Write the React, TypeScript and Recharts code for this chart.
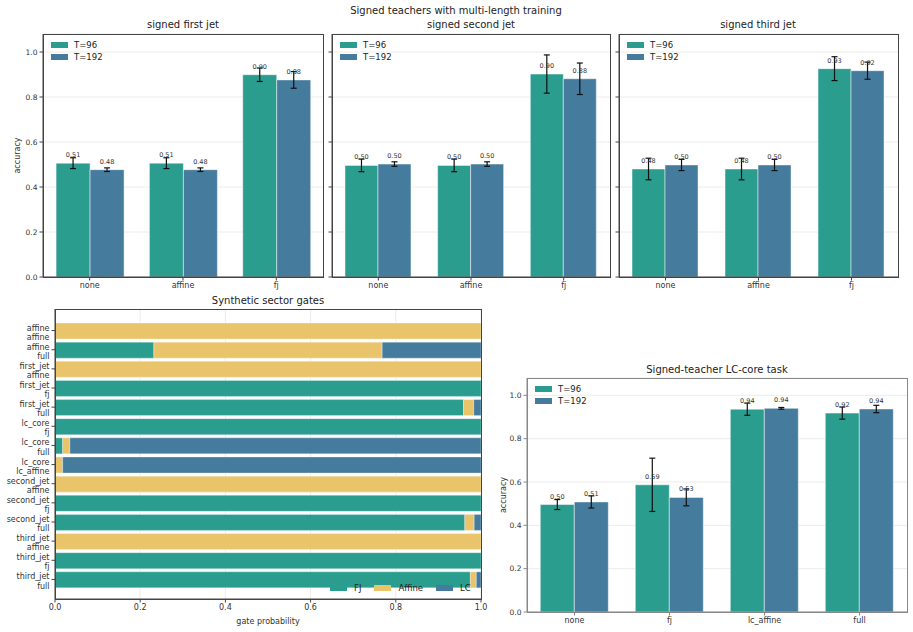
import React from 'react';
import {
  BarChart,
  Bar,
  XAxis,
  YAxis,
  CartesianGrid,
  ErrorBar,
  LabelList,
  Legend,
} from 'recharts';

const FONT = '"DejaVu Sans", sans-serif';
const TEAL = '#2a9d8f';
const BLUE = '#457b9d';
const YELLOW = '#e9c46a';

// top row: signed teachers, categories none / affine / fj
const topCats = ['none', 'affine', 'fj'];
const firstT96 = [0.506, 0.506, 0.899];
const firstT96Err = [0.024, 0.024, 0.03];
const firstT192 = [0.477, 0.477, 0.876];
const firstT192Err = [0.008, 0.008, 0.037];
const secondT96 = [0.496, 0.496, 0.902];
const secondT96Err = [0.028, 0.028, 0.085];
const secondT192 = [0.502, 0.502, 0.881];
const secondT192Err = [0.01, 0.01, 0.07];
const thirdT96 = [0.48, 0.48, 0.926];
const thirdT96Err = [0.048, 0.048, 0.053];
const thirdT192 = [0.498, 0.498, 0.917];
const thirdT192Err = [0.025, 0.025, 0.038];

// gate probabilities (task / setup)
const gateTasks = ['affine', 'affine', 'first_jet', 'first_jet', 'first_jet', 'lc_core', 'lc_core', 'lc_core', 'second_jet', 'second_jet', 'second_jet', 'third_jet', 'third_jet', 'third_jet'];
const gateSetups = ['affine', 'full', 'affine', 'fj', 'full', 'fj', 'full', 'lc_affine', 'affine', 'fj', 'full', 'affine', 'fj', 'full'];
const gateFJ = [0, 0.232, 0, 1, 0.959, 1, 0.018, 0, 0, 1, 0.962, 0, 1, 0.975];
const gateAffine = [1, 0.536, 1, 0, 0.024, 0, 0.017, 0.018, 1, 0, 0.022, 1, 0, 0.014];
const gateLC = [0, 0.232, 0, 0, 0.017, 0, 0.965, 0.982, 0, 0, 0.016, 0, 0, 0.011];

// LC-core task
const lcCats = ['none', 'fj', 'lc_affine', 'full'];
const lcT96 = [0.496, 0.587, 0.936, 0.918];
const lcT96Err = [0.023, 0.123, 0.028, 0.028];
const lcT192 = [0.508, 0.529, 0.94, 0.937];
const lcT192Err = [0.028, 0.039, 0.004, 0.017];

const accTicks = [0, 0.2, 0.4, 0.6, 0.8, 1.0];
const gateTicks = [0, 0.2, 0.4, 0.6, 0.8, 1.0];
const seriesOrder = ['T=96', 'T=192'];
const gateOrder = ['FJ', 'Affine', 'LC'];

const makeRows = (cats: string[], a: number[], ae: number[], b: number[], be: number[]) =>
  cats.map((c, i) => ({ cat: c, t96: a[i], t96Err: ae[i], t192: b[i], t192Err: be[i] }));

const fmt2 = (v: any) => Number(v).toFixed(2);
const fmt1 = (v: number) => v.toFixed(1);

const ordered = (payload: any[], order: string[]) =>
  [...(payload || [])].sort((a, b) => order.indexOf(a.value) - order.indexOf(b.value));

const valueLabel = (p: any) => (
  <text
    x={Number(p.x) + Number(p.width) / 2}
    y={Number(p.y) - 6}
    textAnchor="middle"
    fontSize={6.5}
    fill="#333"
    fontFamily={FONT}
  >
    {fmt2(p.value)}
  </text>
);

const legendBox = (props: any) => (
  <div style={{ fontFamily: FONT, fontSize: 8.5, color: '#222' }}>
    {ordered(props.payload, seriesOrder).map((p: any) => (
      <div key={p.value} style={{ display: 'flex', alignItems: 'center', height: 12 }}>
        <span style={{ display: 'inline-block', width: 17, height: 6, background: p.color, marginRight: 6 }} />
        <span>{p.value}</span>
      </div>
    ))}
  </div>
);

// plot box outline (matplotlib-style full frame)
const Frame = ({ left, top, width, height, color }: any) => (
  <div
    style={{
      position: 'absolute',
      left: left - 0.5,
      top: top - 0.5,
      width: width + 1,
      height: height + 1,
      border: `1px solid ${color}`,
      boxSizing: 'border-box',
      pointerEvents: 'none',
    }}
  />
);

const AccuracyChart = ({ data, width, height, margin, yWidth, showYLabels, frame }: any) => {
  const xh = 18;
  const plotLeft = margin.left + yWidth;
  const plotTop = margin.top;
  const plotW = width - plotLeft - margin.right;
  const plotH = height - plotTop - margin.bottom - xh;
  return (
    <div style={{ position: 'relative', width, height }}>
      <BarChart width={width} height={height} data={data} margin={margin} barGap={0} barCategoryGap="14%">
        <CartesianGrid vertical={false} stroke="#ececec" />
        <XAxis
          dataKey="cat"
          height={xh}
          tickSize={3.5}
          tick={{ fontSize: 8, fill: '#333', fontFamily: FONT }}
          stroke={frame}
        />
        <YAxis
          domain={[0, 1.08]}
          ticks={accTicks}
          width={yWidth}
          tickSize={3.5}
          tickFormatter={showYLabels ? fmt1 : () => ''}
          tick={{ fontSize: 7.5, fill: '#333', fontFamily: FONT }}
          stroke={frame}
          label={
            showYLabels
              ? { value: 'accuracy', angle: -90, position: 'insideLeft', offset: yWidth > 40 ? 17 : 13, style: { textAnchor: 'middle', fontSize: 8, fill: '#333', fontFamily: FONT } }
              : undefined
          }
        />
        <Legend
          layout="vertical"
          align="center"
          verticalAlign="middle"
          content={legendBox}
          wrapperStyle={{ left: plotLeft + 8, top: plotTop + 5, width: 'auto', height: 'auto' }}
        />
        <Bar dataKey="t96" name="T=96" fill={TEAL} stroke="#fff" strokeOpacity={0.6} strokeWidth={0.8} isAnimationActive={false}>
          <ErrorBar dataKey="t96Err" width={3} stroke="#111" strokeWidth={1.2} direction="y" />
          <LabelList dataKey="t96" content={valueLabel} />
        </Bar>
        <Bar dataKey="t192" name="T=192" fill={BLUE} stroke="#fff" strokeOpacity={0.6} strokeWidth={0.8} isAnimationActive={false}>
          <ErrorBar dataKey="t192Err" width={3} stroke="#111" strokeWidth={1.2} direction="y" />
          <LabelList dataKey="t192" content={valueLabel} />
        </Bar>
      </BarChart>
      <Frame left={plotLeft} top={plotTop} width={plotW} height={plotH} color={frame} />
    </div>
  );
};

const GateTick = (props: any) => {
  const { x, y, payload } = props;
  const [task, setup] = String(payload.value).split('|');
  return (
    <text x={x} y={y} textAnchor="end" fontSize={8} fill="#333" fontFamily={FONT}>
      <tspan x={x} dy={0}>{task}</tspan>
      <tspan x={x} dy={9.2}>{setup}</tspan>
    </text>
  );
};

const gateLegend = (props: any) => (
  <div style={{ display: 'flex', alignItems: 'center', fontFamily: FONT, fontSize: 8.5, color: '#222' }}>
    {ordered(props.payload, gateOrder).map((p: any) => (
      <div key={p.value} style={{ display: 'flex', alignItems: 'center', marginRight: 13 }}>
        <span style={{ display: 'inline-block', width: 17, height: 6, background: p.color, marginRight: 7 }} />
        <span>{p.value}</span>
      </div>
    ))}
  </div>
);

const GateChart = () => {
  const data = gateTasks.map((t, i) => ({
    row: `${t}|${gateSetups[i]}`,
    fj: gateFJ[i],
    affine: gateAffine[i],
    lc: gateLC[i],
  }));
  const margin = { top: 9, right: 9, bottom: 3, left: 0 };
  const yw = 55;
  const xh = 28;
  return (
    <div style={{ position: 'relative', width: 490, height: 330 }}>
      <BarChart width={490} height={330} data={data} layout="vertical" margin={margin}>
        <CartesianGrid horizontal={false} stroke="#ececec" />
        <XAxis
          type="number"
          domain={[0, 1]}
          ticks={gateTicks}
          tickFormatter={fmt1}
          height={xh}
          tickSize={3.5}
          tick={{ fontSize: 8, fill: '#333', fontFamily: FONT }}
          stroke="#444"
          label={{ value: 'gate probability', position: 'insideBottom', offset: 3, style: { fontSize: 8, fill: '#333', fontFamily: FONT } }}
        />
        <YAxis
          type="category"
          dataKey="row"
          width={yw}
          tickSize={3.5}
          interval={0}
          padding={{ top: 12, bottom: 10 }}
          tick={<GateTick />}
          stroke="#444"
        />
        <Legend
          layout="horizontal"
          align="center"
          verticalAlign="middle"
          content={gateLegend}
          wrapperStyle={{ left: 330, top: 283, width: 'auto', height: 'auto' }}
        />
        <Bar dataKey="fj" name="FJ" stackId="g" barSize={16} fill={TEAL} stroke="#fff" strokeOpacity={0.5} strokeWidth={0.6} isAnimationActive={false} />
        <Bar dataKey="affine" name="Affine" stackId="g" barSize={16} fill={YELLOW} stroke="#fff" strokeOpacity={0.5} strokeWidth={0.6} isAnimationActive={false} />
        <Bar dataKey="lc" name="LC" stackId="g" barSize={16} fill={BLUE} stroke="#fff" strokeOpacity={0.5} strokeWidth={0.6} isAnimationActive={false} />
      </BarChart>
      <Frame left={margin.left + yw} top={margin.top} width={490 - yw - margin.right} height={330 - margin.top - margin.bottom - xh} color="#444" />
    </div>
  );
};

const Title = ({ text, cx, y, size }: { text: string; cx: number; y: number; size: number }) => (
  <div
    style={{
      position: 'absolute',
      left: cx - 200,
      top: y - size * 0.6,
      width: 400,
      textAlign: 'center',
      fontSize: size,
      lineHeight: `${size * 1.2}px`,
      fontFamily: FONT,
      color: '#222',
    }}
  >
    {text}
  </div>
);

const App = () => {
  const first = makeRows(topCats, firstT96, firstT96Err, firstT192, firstT192Err);
  const second = makeRows(topCats, secondT96, secondT96Err, secondT192, secondT192Err);
  const third = makeRows(topCats, thirdT96, thirdT96Err, thirdT192, thirdT192Err);
  const lc = makeRows(lcCats, lcT96, lcT96Err, lcT192, lcT192Err);

  return (
    <div style={{ position: 'absolute', left: 0, top: 0, width: 913, height: 632, background: '#fff', overflow: 'hidden' }}>
      <Title text="Signed teachers with multi-length training" cx={456} y={11} size={10} />
      <Title text="signed first jet" cx={183} y={25} size={10} />
      <Title text="signed second jet" cx={471} y={25} size={10} />
      <Title text="signed third jet" cx={758} y={25} size={10} />
      <Title text="Synthetic sector gates" cx={268} y={301} size={10} />
      <Title text="Signed-teacher LC-core task" cx={717} y={370} size={10} />

      <div style={{ position: 'absolute', left: 0, top: 20 }}>
        <AccuracyChart data={first} width={330} height={280} margin={{ top: 14, right: 7, bottom: 5, left: 0 }} yWidth={43} showYLabels frame="#444" />
      </div>
      <div style={{ position: 'absolute', left: 320, top: 20 }}>
        <AccuracyChart data={second} width={297} height={280} margin={{ top: 14, right: 7, bottom: 5, left: 0 }} yWidth={12} showYLabels={false} frame="#444" />
      </div>
      <div style={{ position: 'absolute', left: 607, top: 20 }}>
        <AccuracyChart data={third} width={298} height={280} margin={{ top: 14, right: 7, bottom: 5, left: 0 }} yWidth={12} showYLabels={false} frame="#444" />
      </div>

      <div style={{ position: 'absolute', left: 0, top: 300 }}>
        <GateChart />
      </div>

      <div style={{ position: 'absolute', left: 490, top: 360 }}>
        <AccuracyChart data={lc} width={423} height={272} margin={{ top: 18, right: 6, bottom: 2, left: 0 }} yWidth={37} showYLabels frame="#888" />
      </div>
    </div>
  );
};

export default App;
